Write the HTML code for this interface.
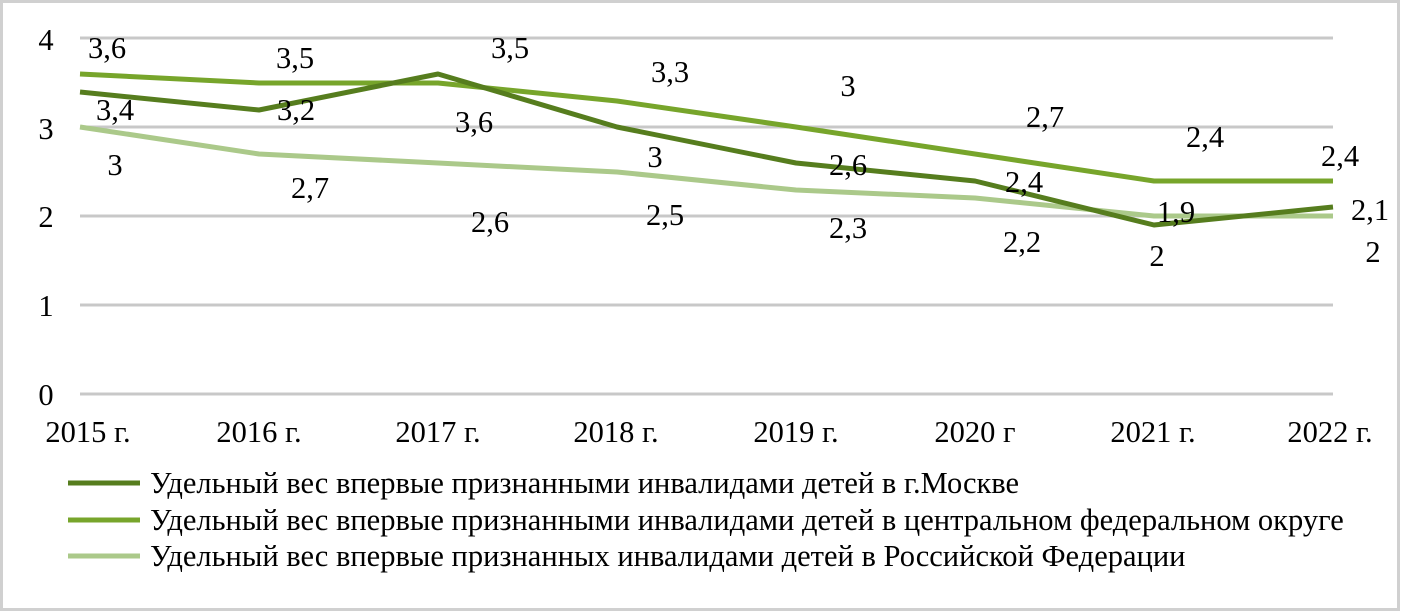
<!DOCTYPE html><html><head><meta charset="utf-8"><style>body{margin:0;background:#fff}svg{display:block}text{font-family:"Liberation Serif",serif;font-size:30.5px;fill:#000}</style></head><body>
<svg width="1402" height="613" viewBox="0 0 1402 613">
<rect x="1.5" y="1.5" width="1397" height="608" fill="#fff" stroke="#d0d0d0" stroke-width="3"/>
<g stroke="#c8c8c8" stroke-width="3">
<line x1="80" y1="38" x2="1333" y2="38"/><line x1="80" y1="127" x2="1333" y2="127"/><line x1="80" y1="216" x2="1333" y2="216"/><line x1="80" y1="305" x2="1333" y2="305"/><line x1="80" y1="394" x2="1333" y2="394"/></g>
<g text-anchor="middle" dominant-baseline="central">
<text x="46" y="40">4</text><text x="46" y="129">3</text><text x="46" y="217">2</text><text x="46" y="306">1</text><text x="46" y="395">0</text>
<text x="88" y="432">2015 г.</text><text x="259" y="432">2016 г.</text><text x="438" y="432">2017 г.</text><text x="616" y="432">2018 г.</text><text x="796" y="432">2019 г.</text><text x="975" y="432">2020 г</text><text x="1153" y="432">2021 г.</text><text x="1330" y="432">2022 г.</text>
</g>
<g fill="none" stroke-width="5" stroke-linejoin="round">
<polyline stroke="#abc98a" points="80,127 259,154 438,163 617,172 796,190 975,198 1154,216 1333,216"/>
<polyline stroke="#77a52b" points="80,74 259,83 438,83 617,101 796,127 975,154 1154,181 1333,181"/>
<polyline stroke="#567d1e" points="80,92 259,110 438,74 617,127 796,163 975,181 1154,225 1333,207"/>
</g>
<g text-anchor="middle" dominant-baseline="central">
<text x="115" y="110">3,4</text><text x="296" y="110">3,2</text><text x="474" y="122">3,6</text><text x="655" y="157">3</text><text x="848" y="165">2,6</text><text x="1024" y="182">2,4</text><text x="1176" y="212">1,9</text><text x="1370" y="210">2,1</text>
<text x="107" y="48">3,6</text><text x="295" y="58">3,5</text><text x="510" y="48">3,5</text><text x="670" y="72">3,3</text><text x="848" y="86">3</text><text x="1045" y="117">2,7</text><text x="1205" y="137">2,4</text><text x="1340" y="156">2,4</text>
<text x="115" y="165">3</text><text x="310" y="188">2,7</text><text x="490" y="222">2,6</text><text x="665" y="215">2,5</text><text x="848" y="228">2,3</text><text x="1022" y="242">2,2</text><text x="1157" y="256">2</text><text x="1373" y="252">2</text>
</g>
<g stroke-width="5"><line x1="68" y1="483" x2="140" y2="483" stroke="#567d1e"/><line x1="68" y1="520" x2="140" y2="520" stroke="#77a52b"/><line x1="68" y1="556" x2="140" y2="556" stroke="#abc98a"/></g>
<g dominant-baseline="central">
<text x="150" y="483">Удельный вес впервые признанными инвалидами детей в г.Москве</text>
<text x="150" y="520">Удельный вес впервые признанными инвалидами детей в центральном федеральном округе</text>
<text x="150" y="556">Удельный вес впервые признанных инвалидами детей в Российской Федерации</text>
</g>
</svg></body></html>
